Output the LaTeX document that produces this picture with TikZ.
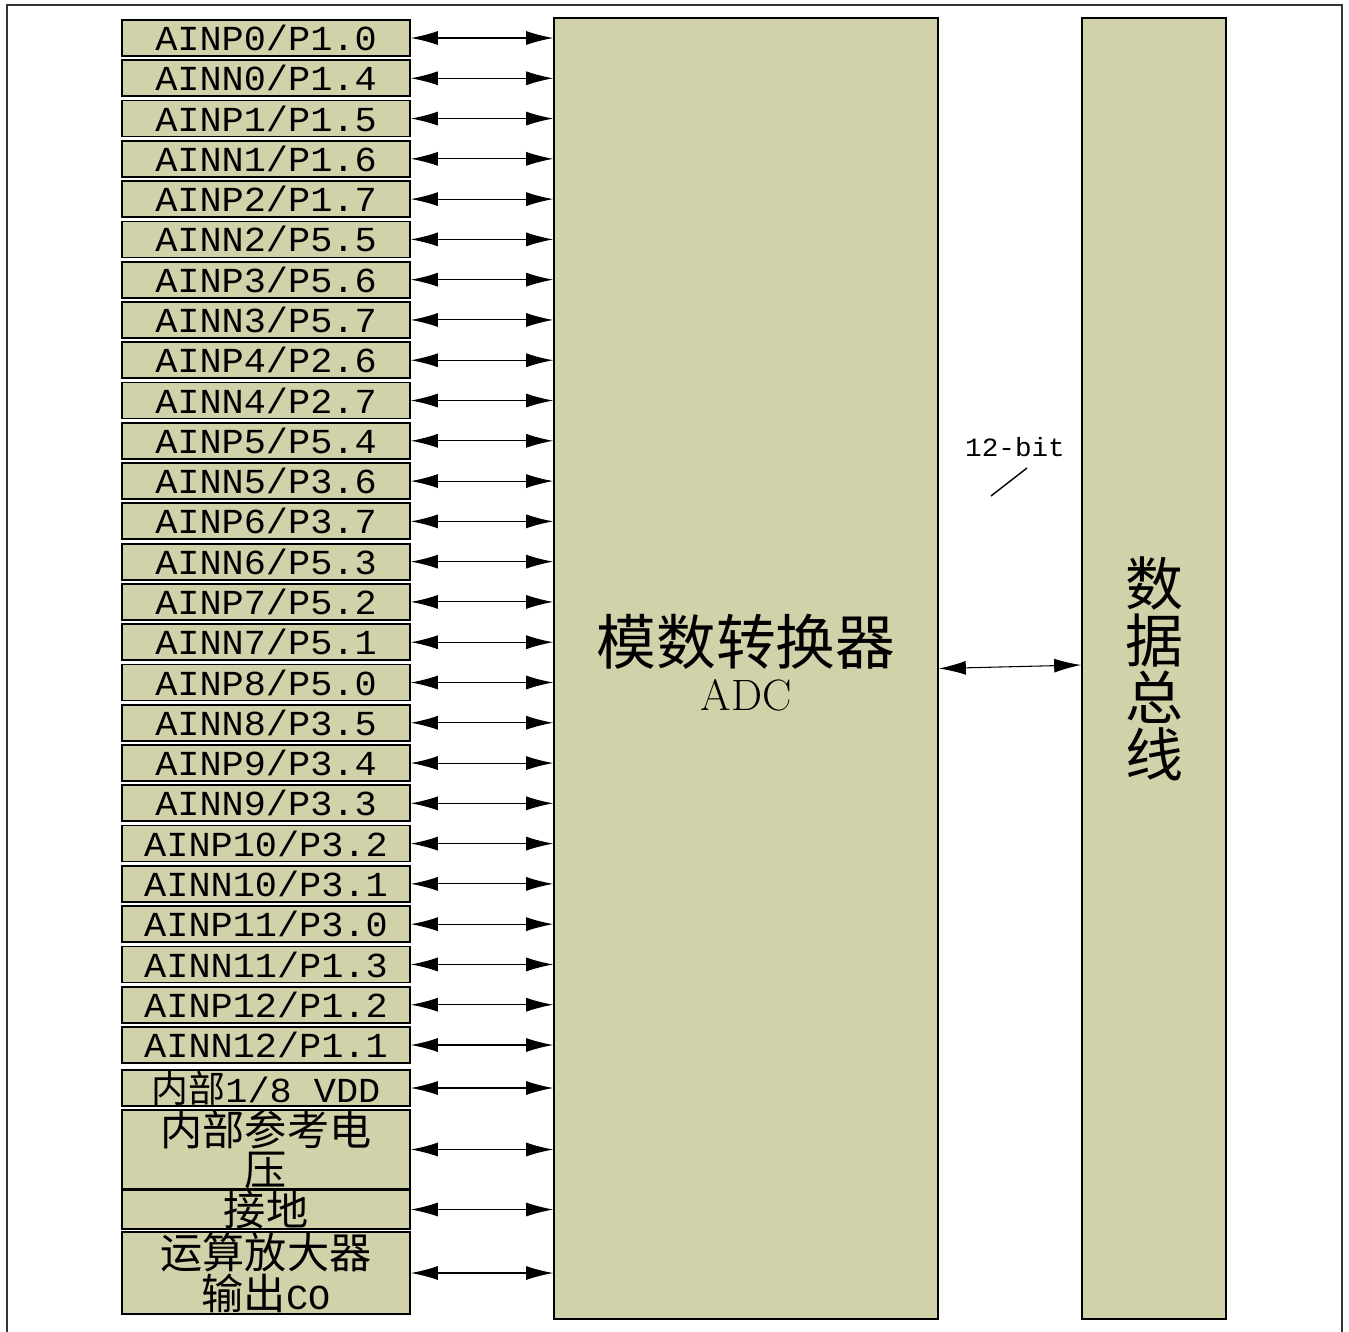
\documentclass[tikz,border=0pt]{standalone}
\usepackage{fontspec}
\newfontfamily\cjk{Noto Sans CJK SC}
\newfontfamily\pinfam[FakeStretch=1.05]{Liberation Mono}
\usetikzlibrary{arrows.meta,positioning}
\definecolor{boxfill}{RGB}{209,209,170}
\newcommand\pinfont{\pinfam\fontsize{20}{22}\selectfont}
\newcommand\tickfont{\pinfam\fontsize{15}{15}\selectfont}
\newcommand\cjkfont{\cjk\fontsize{24}{23}\selectfont}
\tikzset{
  >={Latex[length=5.4mm,width=2.8mm]},
  pin/.style={draw, fill=boxfill, line width=1pt, minimum width=5.76cm, minimum height=0.72cm, inner sep=0pt, align=center, font=\pinfont},
  cjkpin/.style={pin, font=\cjkfont},
  chip/.style={draw, fill=boxfill, line width=1pt, minimum width=7.68cm, minimum height=26.02cm, inner sep=0pt, align=center},
  bus/.style={chip, minimum width=2.88cm},
  link/.style={<->, line width=0.6pt},
}

\begin{document}
\begin{tikzpicture}[x=0.02cm, y=-0.02cm]
  \useasboundingbox (0,0) rectangle (1349,1332);
  % outer frame, open at the bottom
  \draw[line width=1pt, black!80] (7,1332) -- (7,5) -- (1342,5) -- (1342,1332);

  \node[chip] (adc) at (746,668.5) {};
  \node[align=center, inner sep=0pt, font={\cjk\fontsize{34}{33}\selectfont}] (adctext) at (746,663) {模数转换器\\[-7pt]{\rmfamily\fontsize{25}{25}\selectfont ADC}};
  \node[bus, font={\cjk\fontsize{33}{32.4}\selectfont}] (data) at (1154,668.5) {数\\据\\总\\线};

  % analog inputs
  \foreach \kind/\num/\port [count=\i from 0] in {
      P/0/1.0, N/0/1.4, P/1/1.5, N/1/1.6, P/2/1.7, N/2/5.5, P/3/5.6, N/3/5.7,
      P/4/2.6, N/4/2.7, P/5/5.4, N/5/3.6, P/6/3.7, N/6/5.3, P/7/5.2, N/7/5.1,
      P/8/5.0, N/8/3.5, P/9/3.4, N/9/3.3, P/10/3.2, N/10/3.1, P/11/3.0,
      N/11/1.3, P/12/1.2, N/12/1.1} {
    \node[pin] (pin\i) at (266,{38+40.28*\i}) {AIN\kind\num/P\port};
    \draw[link] (pin\i.east) -- (pin\i.east -| adc.west);
  }

  % internal sources
  \node[pin] (vdd) at (266,1088) {{\cjk\fontsize{21}{22}\selectfont 内部}1/8 VDD};
  \node[cjkpin, minimum height=1.5cm] (vref) at (266,1149.5) {内部参考电\\压};
  \node[cjkpin] (gnd) at (266,1209.5) {接地};
  \node[cjkpin, minimum height=1.64cm] (opamp) at (266,1273) {运算放大器\\输出{\pinfont CO}};
  \foreach \src in {vdd,vref,gnd,opamp}
    \draw[link] (\src.east) -- (\src.east -| adc.west);

  % data bus
  \draw[link] (adc.east) -- ([yshift=0.07cm]data.west);
  \node[font=\tickfont] (width) at (1015,447) {12-bit};
  \draw[line width=0.8pt] (991,496) -- (1027,468);
\end{tikzpicture}
\end{document}
